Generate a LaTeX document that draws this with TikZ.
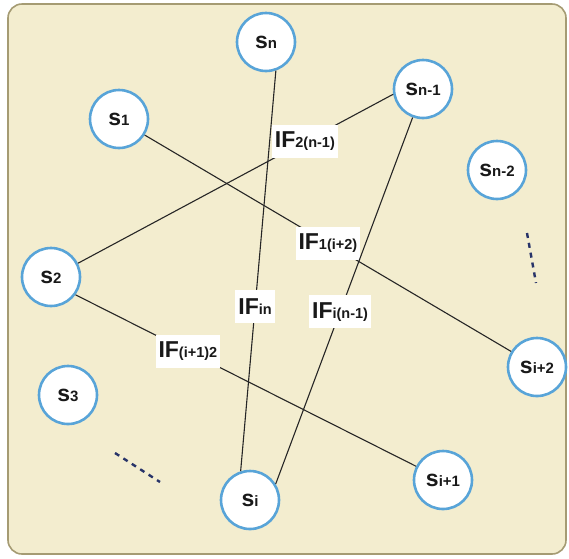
\documentclass[tikz,border=0pt]{standalone}
\usepackage{fontspec}
\setmainfont{Liberation Sans}
\usetikzlibrary{calc}
\definecolor{bgfill}{RGB}{243,237,207}
\definecolor{bgline}{RGB}{165,155,115}
\definecolor{ringblue}{RGB}{88,164,216}
\definecolor{dashblue}{RGB}{40,52,105}
\newcommand{\st}[1]{\fontsize{23}{23}\selectfont\textbf{s}{\fontsize{15}{15}\selectfont\bfseries #1}}
\newcommand{\IFl}[1]{\fontsize{23}{23}\selectfont\textbf{IF}{\fontsize{14.5}{15}\selectfont\bfseries #1}}

\begin{document}
\begin{tikzpicture}[x=1pt,y=-1pt,
    station/.style={circle, draw=ringblue, line width=2.6pt, fill=white, minimum size=58pt, inner sep=0pt, text=black!90},
    lbl/.style={fill=white, inner xsep=3pt, inner ysep=0pt, minimum height=33pt, text=black!90},
    link/.style={draw=black!85, line width=1.1pt},
    gap/.style={dashblue, line width=2.4pt, dash pattern=on 5pt off 5pt}]
    \useasboundingbox (0,0) rectangle (569,558);
    \draw[bgline, fill=bgfill, line width=1.6pt, rounded corners=14pt] (8,4) rectangle (566,554);

    \node[station] (sn) at (266,42) {\st{n}};
    \node[station] (snm1) at (423,89) {\st{n-1}};
    \node[station] (s1) at (119,119) {\st{1}};
    \node[station] (snm2) at (497,170) {\st{n-2}};
    \node[station] (s2) at (51,277) {\st{2}};
    \node[station] (sip2) at (537,367) {\st{i+2}};
    \node[station] (s3) at (68,395) {\st{3}};
    \node[station] (sip1) at (443,480) {\st{i+1}};
    \node[station] (si) at (250,500) {\st{i}};

    \path[link]
        (s2.27) edge node[lbl, pos=.72] {\IFl{2(n-1)}} (snm1.190)
        (s1.-32) edge node[lbl, pos=.5] {\IFl{1(i+2)}} (sip2.149)
        (sn.-71) edge node[lbl, pos=.59] {\IFl{in}} (si.108)
        (snm1.-110) edge node[lbl, pos=.53] {\IFl{i(n-1)}} (si.32)
        (s2.-36) edge node[lbl, pos=.33] {\IFl{(i+1)2}} (sip1.153)
        ;

    \coordinate (d1a) at (115,453);
    \coordinate (d1b) at (160,482);
    \coordinate (d2a) at (527,233);
    \coordinate (d2b) at (536,283);
    \draw[gap] (d1a) -- (d1b);
    \draw[gap] (d2a) -- (d2b);
\end{tikzpicture}
\end{document}
